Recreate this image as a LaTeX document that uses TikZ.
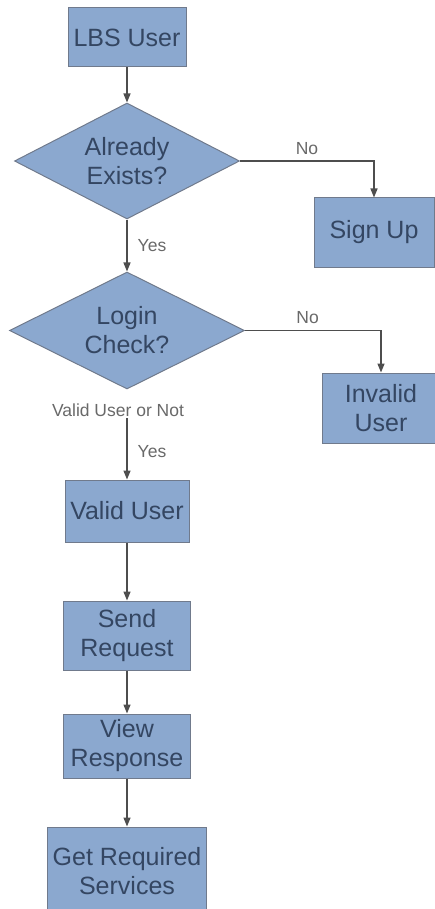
\documentclass[tikz,border=0pt]{standalone}
\usepackage{fontspec}
\setmainfont{Liberation Sans}
\usetikzlibrary{positioning,calc,shapes.geometric,arrows.meta}
\definecolor{boxfill}{RGB}{139,168,207}
\definecolor{boxline}{RGB}{112,122,140}
\definecolor{boxtext}{RGB}{52,70,98}
\definecolor{linegray}{RGB}{78,78,78}
\definecolor{lblgray}{RGB}{105,105,105}
\tikzset{
box/.style={draw=boxline,fill=boxfill,line width=1pt,inner sep=0pt,align=center,text=boxtext,font=\fontsize{25}{29}\selectfont},
decide/.style={box,diamond,aspect=1.95},
lbl/.style={font=\fontsize{17.5}{20}\selectfont,text=lblgray,inner sep=1pt},
flow/.style={-{Triangle[length=9pt,width=7pt]},line width=1.4pt,linegray}
}

\begin{document}
\begin{tikzpicture}[x=1pt,y=1pt]
\useasboundingbox (0,0) rectangle (435,-909);
\clip (0,0) rectangle (435,-909);
% main column
\node[box,minimum width=118pt,minimum height=59pt] (user) at (127,-37.5) {LBS User};
\node[decide,minimum width=225pt,minimum height=116pt,below=35pt of user] (exists) {Already\\Exists?};
\node[decide,minimum width=235pt,minimum height=117pt,below=52pt of exists] (login) {Login\\Check?};
\node[lbl] (vlabel) at ($(login.south)+(-9,-21)$) {Valid User or Not};
\node[box,minimum width=124pt,minimum height=62pt,below=90pt of login] (valid) {Valid User};
\node[box,minimum width=127pt,minimum height=69pt,below=58pt of valid] (send) {Send\\Request};
\node[box,minimum width=127pt,minimum height=64pt,below=43pt of send] (view) {View\\Response};
\node[box,minimum width=159pt,minimum height=88pt,below=48pt of view] (get) {Get Required\\Services};
% side boxes
\node[box,minimum width=120pt,minimum height=69pt] (signup) at (374,-232.5) {Sign Up};
\node[box,minimum width=118pt,minimum height=70pt] (invalid) at (381,-408) {Invalid\\User};
% connectors
\draw[flow] (user) -- (exists);
\draw[flow] (exists) -- node[lbl,right=9pt,pos=0.5] {Yes} (login);
\draw[flow] (exists.east) -| node[lbl,above=5pt,pos=0.25] {No} (signup.north);
\draw[flow] (login.east) -| node[lbl,above=5pt,pos=0.23] {No} (invalid.north);
\draw[flow] (vlabel.south -| valid.north) -- node[lbl,right=9pt,pos=0.55] {Yes} (valid.north);
\draw[flow] (valid) -- (send);
\draw[flow] (send) -- (view);
\draw[flow] (view) -- (get);
\end{tikzpicture}
\end{document}
